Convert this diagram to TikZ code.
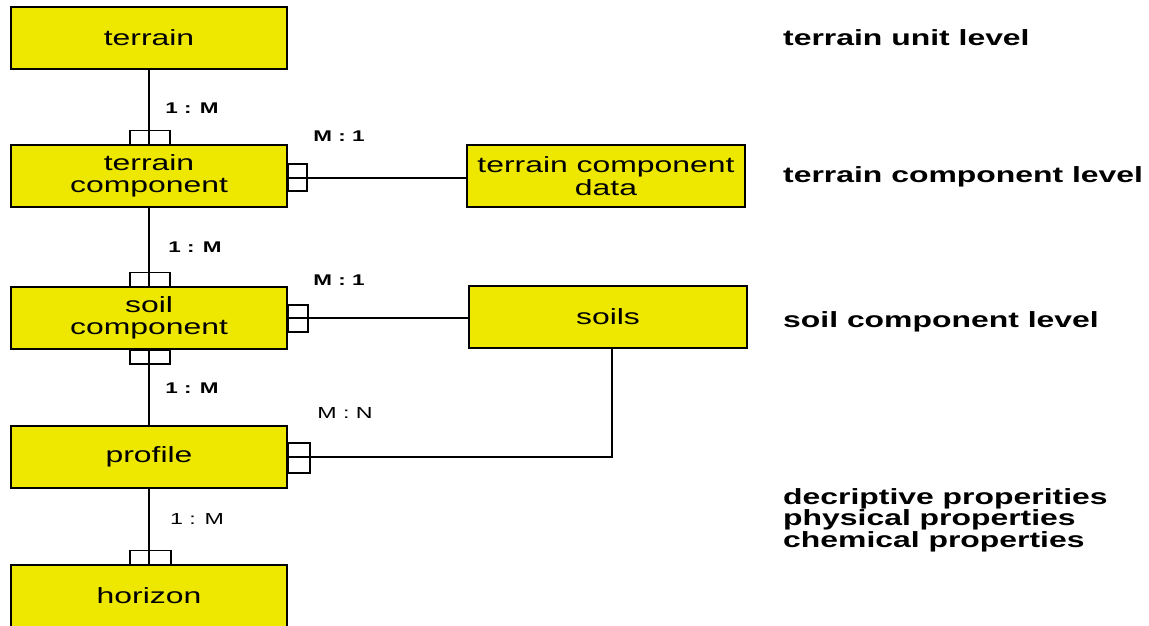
\documentclass[tikz,border=0pt]{standalone}
\usepackage{fontspec}
\setmainfont{Liberation Sans}[FakeStretch=1.45]
\definecolor{boxyellow}{RGB}{238,232,0}
\begin{document}
\begin{tikzpicture}[x=1pt,y=-1pt,
  ent/.style={draw=black, line width=1.6pt, fill=boxyellow, minimum width=276pt,
    minimum height=62pt, inner sep=0pt, align=center, font=\fontsize{22}{22.5}\selectfont},
  link/.style={draw=black, line width=1.5pt},
  sq/.style={draw=black, line width=1.4pt},
  cardb/.style={font=\fontsize{15.5}{18}\selectfont\bfseries, inner sep=0pt},
  cardr/.style={font=\fontsize{16}{18}\selectfont, inner sep=0pt},
  level/.style={font=\fontsize{22}{19.5}\selectfont\bfseries, anchor=west, align=left, inner sep=0pt}
]
\useasboundingbox (0,0) rectangle (1149,625);
% entities
\node[ent] (terrain) at (149,38) {terrain};
\node[ent] (tcomp) at (149,176) {terrain\\component};
\node[ent, minimum width=278pt] (tcd) at (606,176) {terrain component\\data};
\node[ent] (scomp) at (149,318) {soil\\component};
\node[ent, minimum width=278pt] (soils) at (608,317) {soils};
\node[ent] (profile) at (149,457) {profile};
\node[ent] (horizon) at (149,596) {horizon};
% connectors
\draw[link] (terrain.south) -- (tcomp.north);
\draw[link] (tcomp.south) -- (scomp.north);
\draw[link] (scomp.south) -- (profile.north);
\draw[link] (profile.south) -- (horizon.north);
\draw[link] ([yshift=-2pt]tcomp.east) -- ([yshift=-2pt]tcomp.east -| tcd.west);
\draw[link] (scomp.east) -- (scomp.east -| soils.west);
\draw[link] ([xshift=4pt]soils.south) |- (profile.east);
% cardinality squares
\draw[sq] ([xshift=-19pt]tcomp.north) rectangle ([xshift=21pt,yshift=14pt]tcomp.north);
\draw[sq] ([xshift=-19pt]scomp.north) rectangle ([xshift=21pt,yshift=14pt]scomp.north);
\draw[sq] ([xshift=-19pt]scomp.south) rectangle ([xshift=21pt,yshift=-14pt]scomp.south);
\draw[sq] ([xshift=-19pt]horizon.north) rectangle ([xshift=22pt,yshift=14pt]horizon.north);
\draw[sq] ([yshift=12pt]tcomp.east) rectangle ([xshift=19pt,yshift=-15pt]tcomp.east);
\draw[sq] ([yshift=13pt]scomp.east) rectangle ([xshift=20pt,yshift=-14pt]scomp.east);
\draw[sq] ([yshift=14pt]profile.east) rectangle ([xshift=22pt,yshift=-16pt]profile.east);
% cardinality labels
\node[cardb] (c1) at (192,108) {1 : M};
\node[cardb] (c2) at (195,247) {1 : M};
\node[cardb] (c3) at (192,388) {1 : M};
\node[cardr] (c4) at (197,519) {1 : M};
\node[cardb] (c5) at (339,136) {M : 1};
\node[cardb] (c6) at (339,280) {M : 1};
\node[cardr] (c7) at (345,413) {M : N};
% level texts
\node[level] (l1) at (783,38) {terrain unit level};
\node[level] (l2) at (783,177) {terrain component level};
\node[level] (l3) at (783,322) {soil component level};
\node[level] (l4) at (783,520) {decriptive properities\\physical properties\\chemical properties};
\end{tikzpicture}
\end{document}
